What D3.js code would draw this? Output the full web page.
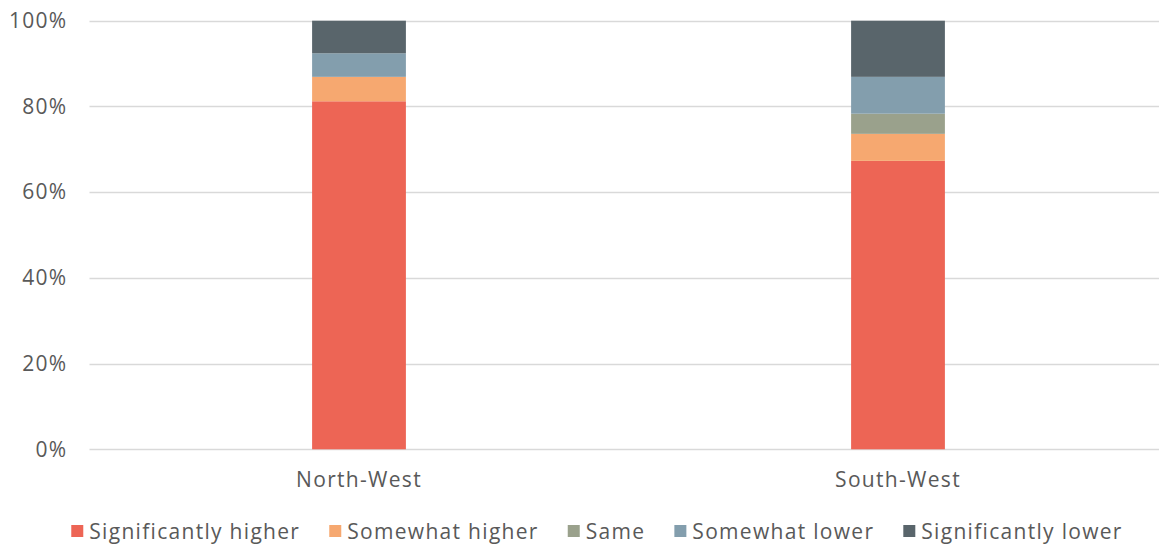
<!DOCTYPE html>
<html>
<head>
<meta charset="utf-8">
<script src="https://cdn.jsdelivr.net/npm/d3@7"></script>
<style>
  body { margin: 0; background: #fff; }
  svg { display: block; }
  text { font-family: "Open Sans", sans-serif; fill: #595959; }
</style>
</head>
<body>
<svg id="chart" width="1159" height="547"></svg>
<script>
const categories = ["North-West", "South-West"];
const seriesNames = ["Significantly higher", "Somewhat higher", "Same", "Somewhat lower", "Significantly lower"];
const significantlyHigher = [81.2, 67.3];
const somewhatHigher = [5.7, 6.3];
const same = [0, 4.7];
const somewhatLower = [5.5, 8.6];
const significantlyLower = [7.6, 13.1];
const colors = ["#ED6555", "#F6A870", "#9AA18C", "#839EAD", "#59656B"];
const yTicks = [0, 20, 40, 60, 80, 100];

const seriesValues = [significantlyHigher, somewhatHigher, same, somewhatLower, significantlyLower];
const rows = categories.map((c, i) => {
  const r = { category: c };
  seriesNames.forEach((s, j) => { r[s] = seriesValues[j][i]; });
  return r;
});

const FONT = "'Open Sans', sans-serif";
const FS = "21px";
const LS = "1.3px";

const svg = d3.select("#chart");
const x = d3.scaleBand().domain(categories).range([89.5, 1167.5]).paddingInner(0.826).paddingOuter(0.413);
const y = d3.scaleLinear().domain([0, 100]).range([449.3, 20.7]);

// gridlines
svg.append("g")
  .selectAll("line").data(yTicks).join("line")
  .attr("x1", 89.5).attr("x2", 1159)
  .attr("y1", d => Math.round(y(d)) + 0.5).attr("y2", d => Math.round(y(d)) + 0.5)
  .attr("stroke", "#d9d9d9").attr("stroke-width", 1.5);

// y axis labels
const yAxis = svg.append("g").attr("transform", "translate(89.5,0)")
  .call(d3.axisLeft(y).tickValues(yTicks).tickFormat(d => d + "%").tickSize(0).tickPadding(22));
yAxis.select(".domain").remove();
yAxis.selectAll("text").style("font-size", FS).style("letter-spacing", LS).attr("fill", "#595959").style("font-family", FONT);

// stacks
const stack = d3.stack().keys(seriesNames);
const stacked = stack(rows);
svg.append("g").selectAll("g").data(stacked).join("g")
  .attr("fill", (d, i) => colors[i])
  .selectAll("rect").data(d => d).join("rect")
  .attr("x", d => x(d.data.category))
  .attr("width", x.bandwidth())
  .attr("y", d => y(d[1]))
  .attr("height", d => y(d[0]) - y(d[1]));

// x axis labels
const xAxis = svg.append("g").attr("transform", "translate(0,449.3)")
  .call(d3.axisBottom(x).tickSize(0).tickPadding(23));
xAxis.select(".domain").remove();
xAxis.selectAll("text").style("font-size", FS).style("letter-spacing", LS).attr("fill", "#595959").style("font-family", FONT);

// legend
const legend = svg.append("g");
const items = legend.selectAll("g").data(seriesNames).join("g");
items.append("rect").attr("width", 12).attr("height", 12).attr("y", -14).attr("fill", (d, i) => colors[i]);
items.append("text").attr("x", 18).attr("y", 0).style("font-size", FS).style("letter-spacing", LS).text(d => d);
let xpos = 0;
const gap = 29;
items.each(function() {
  const g = d3.select(this);
  const w = g.select("text").node().getComputedTextLength();
  g.attr("transform", `translate(${xpos},0)`);
  xpos += 18 + w + gap;
});
const total = xpos - gap;
legend.attr("transform", `translate(${597 - total / 2},539)`);
</script>
</body>
</html>
